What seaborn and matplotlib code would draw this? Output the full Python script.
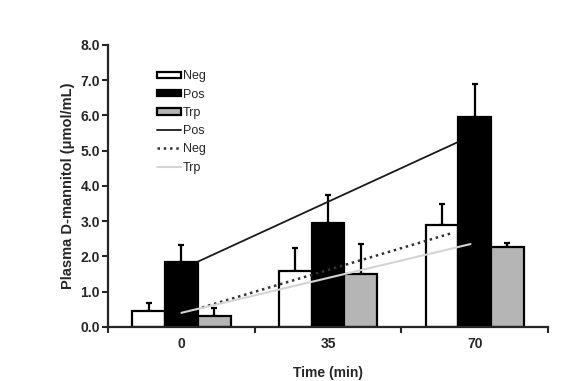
import numpy as np
import pandas as pd
import matplotlib
matplotlib.use("Agg")
import matplotlib.pyplot as plt
import seaborn as sns
from matplotlib.patches import Patch
from matplotlib.lines import Line2D

# ---- data ----
times = ["0", "35", "70"]
groups = ["Neg", "Pos", "Trp"]
neg_mean = [0.45, 1.60, 2.88]
pos_mean = [1.85, 2.95, 5.97]
trp_mean = [0.32, 1.50, 2.27]
neg_err = [0.23, 0.65, 0.62]
pos_err = [0.47, 0.80, 0.91]
trp_err = [0.23, 0.85, 0.11]

# trend lines (time in min, value)
pos_trend_t = [3.9, 66.1]
pos_trend_v = [1.85, 5.25]
neg_trend_t = [3.5, 64.8]
neg_trend_v = [0.50, 2.67]
trp_trend_t = [0.0, 69.0]
trp_trend_v = [0.40, 2.35]
time_step = 35.0

sns.set_style("ticks")
plt.rcParams['font.family'] = ['Liberation Sans', 'DejaVu Sans']

df = pd.DataFrame({
    "Time": times * 3,
    "Group": np.repeat(groups, 3),
    "Value": neg_mean + pos_mean + trp_mean,
})

fig = plt.figure(figsize=(5.72, 3.81), dpi=100)
ax = fig.add_axes([0.189, 0.142, 0.769, 0.740])

trp_color = "#b5b5b5"
colors = {"Neg": "white", "Pos": "black", "Trp": trp_color}
sns.barplot(data=df, x="Time", y="Value", hue="Group", order=times,
            hue_order=groups, palette=colors, width=0.67, gap=0,
            edgecolor="black", linewidth=1.6, errorbar=None, ax=ax,
            legend=False, zorder=2)

errs = [neg_err, pos_err, trp_err]
means = [neg_mean, pos_mean, trp_mean]
for cont, e, m in zip(ax.containers, errs, means):
    xs = [p.get_x() + p.get_width() / 2 for p in cont.patches]
    ax.errorbar(xs, m, yerr=[np.zeros(len(e)), e], fmt="none",
                ecolor="black", elinewidth=1.6, capsize=2.3, capthick=1.6,
                zorder=1)

dot_style = (0, (1.0, 1.5))
ax.plot(np.array(pos_trend_t) / time_step, pos_trend_v, color="#1a1a1a",
        lw=1.3, zorder=3)
ax.plot(np.array(neg_trend_t) / time_step, neg_trend_v, color="#333333",
        lw=1.8, linestyle=dot_style, zorder=3)
ax.plot(np.array(trp_trend_t) / time_step, trp_trend_v, color="#d4d4d4",
        lw=1.5, zorder=3)

ax.set_xlim(-0.5, 2.5)
ax.set_ylim(0, 8.0)
yt = np.arange(0, 8.01, 1.0)
ax.set_yticks(yt)
ax.set_yticklabels([f"{v:.1f}" for v in yt], fontsize=10, fontweight="bold")
ax.set_xticks([0, 1, 2])
ax.set_xticklabels(times, fontsize=10, fontweight="bold")
ax.set_xticks([-0.5, 0.5, 1.5, 2.5], minor=True)
ax.tick_params(axis="x", which="major", length=0, pad=7)
ax.tick_params(axis="x", which="minor", length=4, width=1.5, direction="out")
ax.tick_params(axis="y", length=4, width=1.5, direction="out", pad=2)

for s in ["top", "right"]:
    ax.spines[s].set_visible(False)
for s in ["left", "bottom"]:
    ax.spines[s].set_linewidth(1.6)

ax.set_xlabel("Time (min)", fontsize=10, fontweight="bold", labelpad=11)
ax.set_ylabel("Plasma D-mannitol (μmol/mL)", fontsize=10.5, fontweight="bold",
              labelpad=4)

handles = [
    Patch(facecolor="white", edgecolor="black", linewidth=1.6),
    Patch(facecolor="black", edgecolor="black", linewidth=1.6),
    Patch(facecolor=trp_color, edgecolor="black", linewidth=1.6),
    Line2D([], [], color="#1a1a1a", lw=1.3),
    Line2D([], [], color="#333333", lw=1.8, linestyle=dot_style),
    Line2D([], [], color="#d4d4d4", lw=1.5),
]
labels = ["Neg", "Pos", "Trp", "Pos", "Neg", "Trp"]
ax.legend(handles, labels, loc="upper left", bbox_to_anchor=(0.112, 0.91),
          frameon=False, fontsize=9, handlelength=1.9, handleheight=0.45,
          handletextpad=0.15, labelspacing=0.5, borderpad=0,
          borderaxespad=0)

fig.savefig("out.png", dpi=100)
